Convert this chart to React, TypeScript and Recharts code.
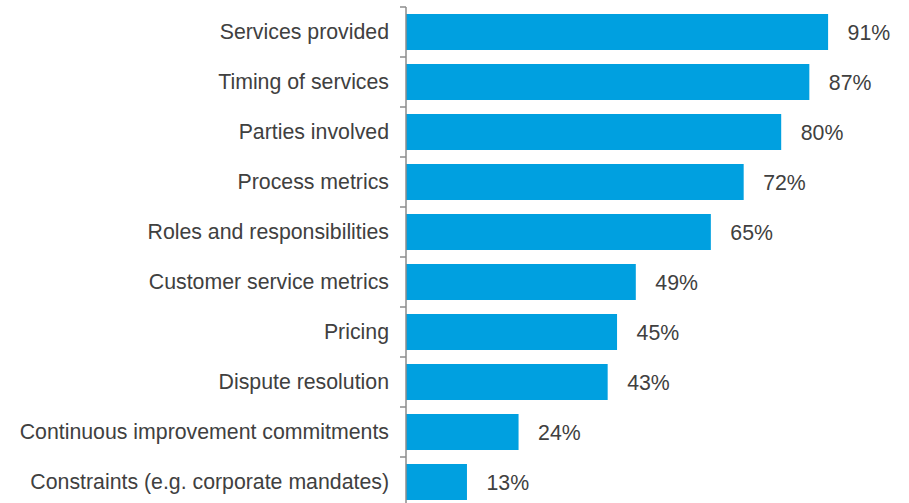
import React from "react";
import { BarChart, Bar, XAxis, YAxis, LabelList } from "recharts";

const categories = [
  "Services provided",
  "Timing of services",
  "Parties involved",
  "Process metrics",
  "Roles and responsibilities",
  "Customer service metrics",
  "Pricing",
  "Dispute resolution",
  "Continuous improvement commitments",
  "Constraints (e.g. corporate mandates)",
];
// bar lengths as drawn in the picture
const values = [90, 86, 80, 72, 65, 49, 45, 43, 24, 13];
// value labels as printed in the picture
const valueLabels = ["91%", "87%", "80%", "72%", "65%", "49%", "45%", "43%", "24%", "13%"];

const data = categories.map((c, i) => ({ name: c, value: values[i], label: valueLabels[i] }));

const W = 909;
const H = 510;
const M = { top: 7, right: 34, bottom: 3, left: 0 };
const BAND = (H - M.top - M.bottom) / categories.length;
const TEXT = "#404040";
const AXIS = "#8c8c8c";
const FONT = "'Liberation Sans', Arial, sans-serif";
const FS = 21.3;

const CatTick = (props: any) => {
  const { x, y, payload } = props;
  return (
    <g>
      <line x1={x - 6} x2={x} y1={y - BAND / 2} y2={y - BAND / 2} stroke={AXIS} strokeWidth={1.5} />
      <text
        x={x - 17}
        y={y}
        textAnchor="end"
        dominantBaseline="central"
        fill={TEXT}
        fontSize={FS}
        fontFamily={FONT}
      >
        {payload.value}
      </text>
    </g>
  );
};

export default function App() {
  return (
    <div style={{ position: "absolute", left: 0, top: 0, width: W, height: 503, overflow: "hidden", background: "#fff" }}>
      <BarChart width={W} height={H} data={data} layout="vertical" margin={M}>
        <XAxis type="number" domain={[0, 100]} hide />
        <YAxis
          type="category"
          dataKey="name"
          width={406}
          axisLine={{ stroke: AXIS, strokeWidth: 1.5 }}
          tickLine={false}
          tickSize={0}
          tickMargin={0}
          tick={<CatTick />}
          interval={0}
        />
        <Bar dataKey="value" fill="#00A0E0" barSize={36} isAnimationActive={false}>
          <LabelList
            dataKey="label"
            position="right"
            offset={19.5}
            fill={TEXT}
            fontSize={FS}
            fontFamily={FONT}
          />
        </Bar>
      </BarChart>
    </div>
  );
}
